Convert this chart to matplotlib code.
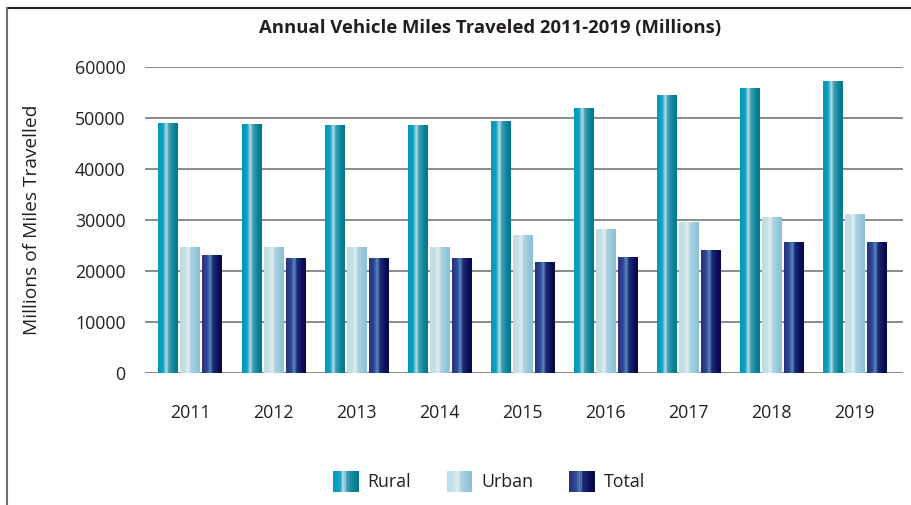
import numpy as np
import matplotlib
matplotlib.use('Agg')
import matplotlib.pyplot as plt
from matplotlib.colors import LinearSegmentedColormap
from matplotlib.patches import Rectangle
from matplotlib.legend_handler import HandlerTuple
from matplotlib.lines import Line2D

plt.rcParams['font.family'] = ['Open Sans', 'DejaVu Sans']

years = ['2011', '2012', '2013', '2014', '2015', '2016', '2017', '2018', '2019']
rural = [49000, 48800, 48600, 48600, 49400, 51800, 54500, 55700, 57250]
urban = [24700, 24700, 24700, 24700, 26900, 28100, 29600, 30400, 31000]
total = [23100, 22400, 22400, 22400, 21600, 22700, 24100, 25500, 25500]
series_names = ['Rural', 'Urban', 'Total']

# left -> highlight -> right shading of each "cylinder"
shades = {
    'Rural': ['#0797b8', '#0aa2c2', '#b9dde6', '#3e9fb5', '#057f95', '#04788d'],
    'Urban': ['#bddce3', '#c6e1e7', '#e0eef1', '#aed4e2', '#93c6da', '#8cc1d6'],
    'Total': ['#27327e', '#2d4691', '#5b8ac0', '#1d2b78', '#0c0d55', '#070848'],
}
stops = [0.0, 0.25, 0.42, 0.55, 0.85, 1.0]
cmaps = {k: LinearSegmentedColormap.from_list(k, list(zip(stops, v))) for k, v in shades.items()}
grad = np.linspace(0, 1, 64).reshape(1, -1)

fig = plt.figure(figsize=(9.12, 5.05), dpi=100)
ax = fig.add_axes([0.159, 0.2614, 0.831, 0.6059])

x = np.arange(len(years))
w = 0.235
offs = [-0.265, 0, 0.265]
for name, vals, off in zip(series_names, [rural, urban, total], offs):
    bars = ax.bar(x + off, vals, w, color='none', zorder=3)
    for b in bars:
        ax.imshow(grad, cmap=cmaps[name], aspect='auto', zorder=3,
                  extent=(b.get_x(), b.get_x() + b.get_width(), 0, b.get_height()))

ax.set_xlim(-0.545, 8.585)
ax.set_ylim(0, 60000)
ax.set_yticks(range(0, 60001, 10000))
ax.set_xticks(x)
ax.set_xticklabels(years)
ax.yaxis.grid(True, color='#808285', linewidth=1.3, zorder=0)
ax.set_axisbelow(True)
for s in ax.spines.values():
    s.set_visible(False)
ax.tick_params(length=0, labelsize=12.8, colors='#231f20')
ax.tick_params(axis='y', pad=14)
ax.tick_params(axis='x', pad=22)
ax.set_ylabel('Millions of Miles Travelled', fontsize=13.8, color='#231f20', labelpad=24)

fig.text(0.537, 0.945, 'Annual Vehicle Miles Traveled 2011-2019 (Millions)',
         ha='center', va='center', fontsize=13.3, fontweight='bold', color='#231f20')

# legend: each swatch is a strip of thin rectangles with the bar shading
handles = []
for name in series_names:
    cols = cmaps[name](np.linspace(0, 1, 16))
    handles.append(tuple(Rectangle((0, 0), 1, 1, facecolor=c, edgecolor='none') for c in cols))
fig.legend(handles, series_names, handler_map={tuple: HandlerTuple(ndivide=None, pad=0)},
           loc='center', bbox_to_anchor=(0.536, 0.047), ncol=3, frameon=False,
           fontsize=12.8, handlelength=1.45, handleheight=1.45, handletextpad=0.5,
           columnspacing=2.0, labelcolor='#231f20')

# frame around the figure (top and left only are visible)
fig.add_artist(Line2D([7 / 912, 1], [1 - 8 / 505, 1 - 8 / 505], color='#231f20', lw=1.5))
fig.add_artist(Line2D([7 / 912, 7 / 912], [0, 1 - 8 / 505], color='#6d6e71', lw=1.5))

fig.savefig('out.png', dpi=100)
